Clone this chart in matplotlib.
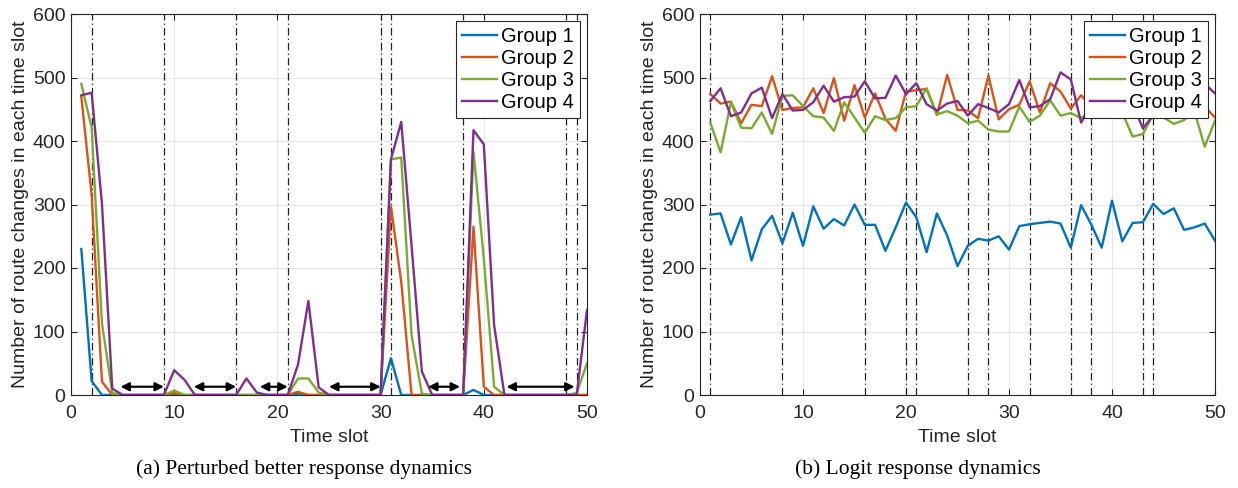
import matplotlib
matplotlib.use("Agg")
import matplotlib.pyplot as plt
import numpy as np

plt.rcParams['font.family'] = ['Liberation Sans', 'DejaVu Sans']

# ---------------- data ----------------
slots = list(range(1, 51))
group_names = ["Group 1", "Group 2", "Group 3", "Group 4"]

# (a) Perturbed better response dynamics
a_g1 = [230, 22, 0, 0, 0, 0, 0, 0, 0, 0,
        0, 0, 0, 0, 0, 0, 0, 0, 0, 0,
        0, 2, 0, 0, 0, 0, 0, 0, 0, 0,
        58, 0, 0, 0, 0, 0, 0, 0, 8, 0,
        0, 0, 0, 0, 0, 0, 0, 0, 0, 0]
a_g2 = [470, 315, 21, 0, 0, 0, 0, 0, 0, 3,
        0, 0, 0, 0, 0, 0, 0, 0, 0, 0,
        0, 5, 0, 0, 0, 0, 0, 0, 0, 0,
        297, 178, 0, 0, 0, 0, 0, 0, 265, 13,
        0, 0, 0, 0, 0, 0, 0, 0, 0, 0]
a_g3 = [490, 421, 113, 3, 0, 0, 0, 0, 0, 7,
        0, 0, 0, 0, 0, 0, 0, 0, 0, 0,
        0, 26, 26, 4, 0, 0, 0, 0, 0, 0,
        371, 374, 94, 2, 0, 0, 0, 0, 383, 215,
        13, 0, 0, 0, 0, 0, 0, 0, 3, 50]
a_g4 = [472, 476, 301, 10, 0, 0, 0, 0, 0, 39,
        24, 0, 0, 0, 0, 0, 26, 4, 0, 0,
        0, 48, 148, 12, 0, 0, 0, 0, 0, 0,
        371, 430, 235, 37, 0, 0, 0, 0, 417, 395,
        110, 0, 0, 0, 0, 0, 0, 0, 0, 134]
a_vlines = [2, 9, 16, 21, 30, 31, 38, 48, 49]
a_arrows = [(4.8, 9.0), (11.9, 16.0), (18.3, 21.0), (25.0, 30.0), (34.6, 37.7), (42.2, 48.8)]
arrow_level = 13

# (b) Logit response dynamics
b_g1 = [284, 286, 237, 280, 212, 261, 282, 239, 287, 235,
        297, 262, 277, 267, 300, 268, 268, 227, 264, 303,
        280, 225, 286, 251, 203, 235, 246, 243, 250, 229,
        266, 269, 271, 273, 270, 232, 299, 268, 232, 306,
        242, 271, 272, 301, 285, 294, 260, 264, 270, 243]
b_g2 = [474, 459, 462, 428, 457, 455, 502, 449, 452, 453,
        483, 444, 499, 432, 488, 437, 475, 435, 416, 478,
        480, 482, 441, 504, 449, 448, 436, 503, 434, 450,
        457, 494, 445, 491, 478, 451, 472, 455, 462, 470,
        448, 460, 450, 458, 446, 465, 455, 462, 454, 437]
b_g3 = [429, 382, 461, 421, 420, 445, 411, 471, 472, 455,
        439, 437, 416, 461, 437, 413, 439, 433, 436, 453,
        455, 483, 442, 447, 440, 428, 432, 418, 415, 415,
        454, 430, 440, 464, 440, 444, 436, 448, 452, 446,
        445, 407, 411, 442, 437, 427, 433, 447, 391, 432]
b_g4 = [463, 483, 439, 445, 475, 484, 436, 474, 448, 449,
        461, 487, 462, 469, 470, 494, 467, 468, 503, 474,
        491, 458, 448, 459, 463, 440, 458, 452, 445, 458,
        496, 453, 455, 466, 508, 497, 429, 457, 470, 462,
        475, 458, 420, 440, 455, 470, 460, 498, 490, 475]
b_vlines = [1, 8, 16, 20, 21, 26, 28, 32, 36, 38, 43, 44]

colors = ["#0072BD", "#D95319", "#77AC30", "#7E2F8E"]
x_ticks = [0, 10, 20, 30, 40, 50]
y_ticks = [0, 100, 200, 300, 400, 500, 600]

fig = plt.figure(figsize=(12.38, 4.88), dpi=100)
ax_a = fig.add_axes([71/1238, 93/488, 516/1238, 381/488])
ax_b = fig.add_axes([700/1238, 93/488, 515/1238, 381/488])


def style_axes(ax, vlines, series):
    ax.set_xlim(0, 50)
    ax.set_ylim(0, 600)
    ax.set_xticks(x_ticks)
    ax.set_yticks(y_ticks)
    ax.grid(True, color="#e6e6e6", linewidth=0.8)
    ax.set_axisbelow(True)
    for v in vlines:
        ax.axvline(v, color="#222222", linestyle=(0, (6, 2.5, 1, 2.5)), linewidth=0.9, zorder=1)
    for vals, c, name in zip(series, colors, group_names):
        ax.plot(slots, vals, color=c, linewidth=1.7, label=name, zorder=3)
    ax.tick_params(direction="in", top=True, right=True, length=4, labelsize=14,
                   colors="#262626")
    ax.tick_params(axis="x", pad=7)
    ax.tick_params(axis="y", pad=4)
    for s in ax.spines.values():
        s.set_color("#262626")
        s.set_linewidth(0.8)
    ax.set_xlabel("Time slot", fontsize=14, color="#262626", labelpad=5)
    ax.set_ylabel("Number of route changes in each time slot", fontsize=14, color="#262626",
                  labelpad=3)
    leg = ax.legend(loc="upper right", fontsize=14.5, frameon=True, fancybox=False,
                    edgecolor="#262626", framealpha=1, borderpad=0.3, labelspacing=0.15,
                    handlelength=1.75, handletextpad=0.2, borderaxespad=0.35)
    leg.get_frame().set_linewidth(0.8)
    leg.set_zorder(10)


style_axes(ax_a, a_vlines, [a_g1, a_g2, a_g3, a_g4])
style_axes(ax_b, b_vlines, [b_g1, b_g2, b_g3, b_g4])

for x0, x1 in a_arrows:
    ax_a.annotate("", xy=(x1, arrow_level), xytext=(x0, arrow_level),
                  arrowprops=dict(arrowstyle="<|-|>,head_length=0.5,head_width=0.25",
                                  color="black", lw=1.6, shrinkA=0, shrinkB=0),
                  zorder=5)

fig.text(304/1238, 1 - 469/488, "(a) Perturbed better response dynamics",
         family=["Liberation Serif", "DejaVu Serif"], fontsize=15.5, ha="center", va="center")
fig.text(918/1238, 1 - 469/488, "(b) Logit response dynamics",
         family=["Liberation Serif", "DejaVu Serif"], fontsize=15.5, ha="center", va="center")

fig.savefig("out.png", dpi=100)
